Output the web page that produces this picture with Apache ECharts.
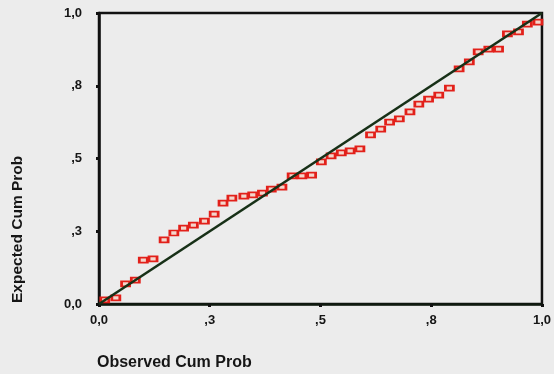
<!DOCTYPE html>
<html>
<head>
<meta charset="utf-8">
<script src="https://cdn.jsdelivr.net/npm/echarts@6/dist/echarts.min.js"></script>
<style>
html,body{margin:0;padding:0;background:#ececec;}
#chart{width:554px;height:374px;}
</style>
</head>
<body>
<div id="chart"></div>
<script>
// Observed cumulative probability (x) and expected cumulative probability (y)
const observed = [0.013,0.038,0.060,0.082,0.100,0.122,0.147,0.169,0.191,0.213,0.238,0.260,0.280,0.300,0.327,0.347,0.369,0.389,0.413,0.436,0.458,0.480,0.502,0.524,0.547,0.567,0.589,0.613,0.636,0.656,0.678,0.702,0.722,0.744,0.767,0.791,0.813,0.836,0.856,0.880,0.902,0.922,0.947,0.967,0.991];
const expected = [0.014,0.021,0.069,0.082,0.151,0.155,0.220,0.244,0.261,0.271,0.285,0.309,0.347,0.364,0.371,0.375,0.381,0.395,0.402,0.440,0.440,0.443,0.488,0.509,0.519,0.526,0.533,0.581,0.601,0.625,0.636,0.660,0.687,0.704,0.718,0.742,0.808,0.832,0.866,0.876,0.876,0.928,0.935,0.962,0.969];
const refLine = [[0,0],[1,1]];
const tickValues = [0, 0.25, 0.5, 0.75, 1];
const tickLabels = ['0,0', ',3', ',5', ',8', '1,0'];
const xTitle = 'Observed Cum Prob';
const yTitle = 'Expected Cum Prob';

const fmt = v => {
  const i = tickValues.findIndex(t => Math.abs(t - v) < 1e-6);
  return i >= 0 ? tickLabels[i] : '';
};
const points = observed.map((x, i) => [x, expected[i]]);
const chart = echarts.init(document.getElementById('chart'), null, {renderer: 'canvas'});
const labelStyle = {color: '#161616', fontFamily: 'Liberation Sans, Arial, sans-serif', fontSize: 13, fontWeight: 'bold'};
chart.setOption({
  backgroundColor: '#ececec',
  animation: false,
  grid: {left: 99, right: 5, top: 13, bottom: 70, show: true, borderColor: '#111', borderWidth: 2.5, backgroundColor: 'transparent'},
  xAxis: {
    type: 'value', min: 0, max: 1, interval: 0.25,
    axisLine: {show: true, lineStyle: {color: '#0f1a0f', width: 2.5}},
    axisTick: {show: true, length: 3, lineStyle: {color: '#111', width: 3}},
    splitLine: {show: false},
    axisLabel: Object.assign({margin: 10, formatter: fmt}, labelStyle)
  },
  yAxis: {
    type: 'value', min: 0, max: 1, interval: 0.25,
    axisLine: {show: true, lineStyle: {color: '#111', width: 2.5}},
    axisTick: {show: true, length: 3, lineStyle: {color: '#111', width: 3}},
    splitLine: {show: false},
    axisLabel: Object.assign({margin: 17, formatter: fmt}, labelStyle)
  },
  graphic: [
    {type: 'text', x: 97, y: 363, style: {text: xTitle, font: 'bold 16px "Liberation Sans", Arial, sans-serif', fill: '#161616', textAlign: 'left', textVerticalAlign: 'middle'}},
    {type: 'text', x: 18, y: 303, rotation: Math.PI / 2, style: {text: yTitle, font: 'bold 15.5px "Liberation Sans", Arial, sans-serif', fill: '#161616', textAlign: 'left', textVerticalAlign: 'middle'}}
  ],
  series: [
    {
      type: 'scatter', data: points, symbol: 'rect', symbolSize: [8, 5], z: 2,
      itemStyle: {color: '#f4d6cc', borderColor: '#e2201a', borderWidth: 2.2, opacity: 1}
    },
    {
      type: 'line', data: refLine, showSymbol: false, symbol: 'none', z: 3,
      lineStyle: {color: '#173017', width: 2.6}
    }
  ]
});
</script>
</body>
</html>
